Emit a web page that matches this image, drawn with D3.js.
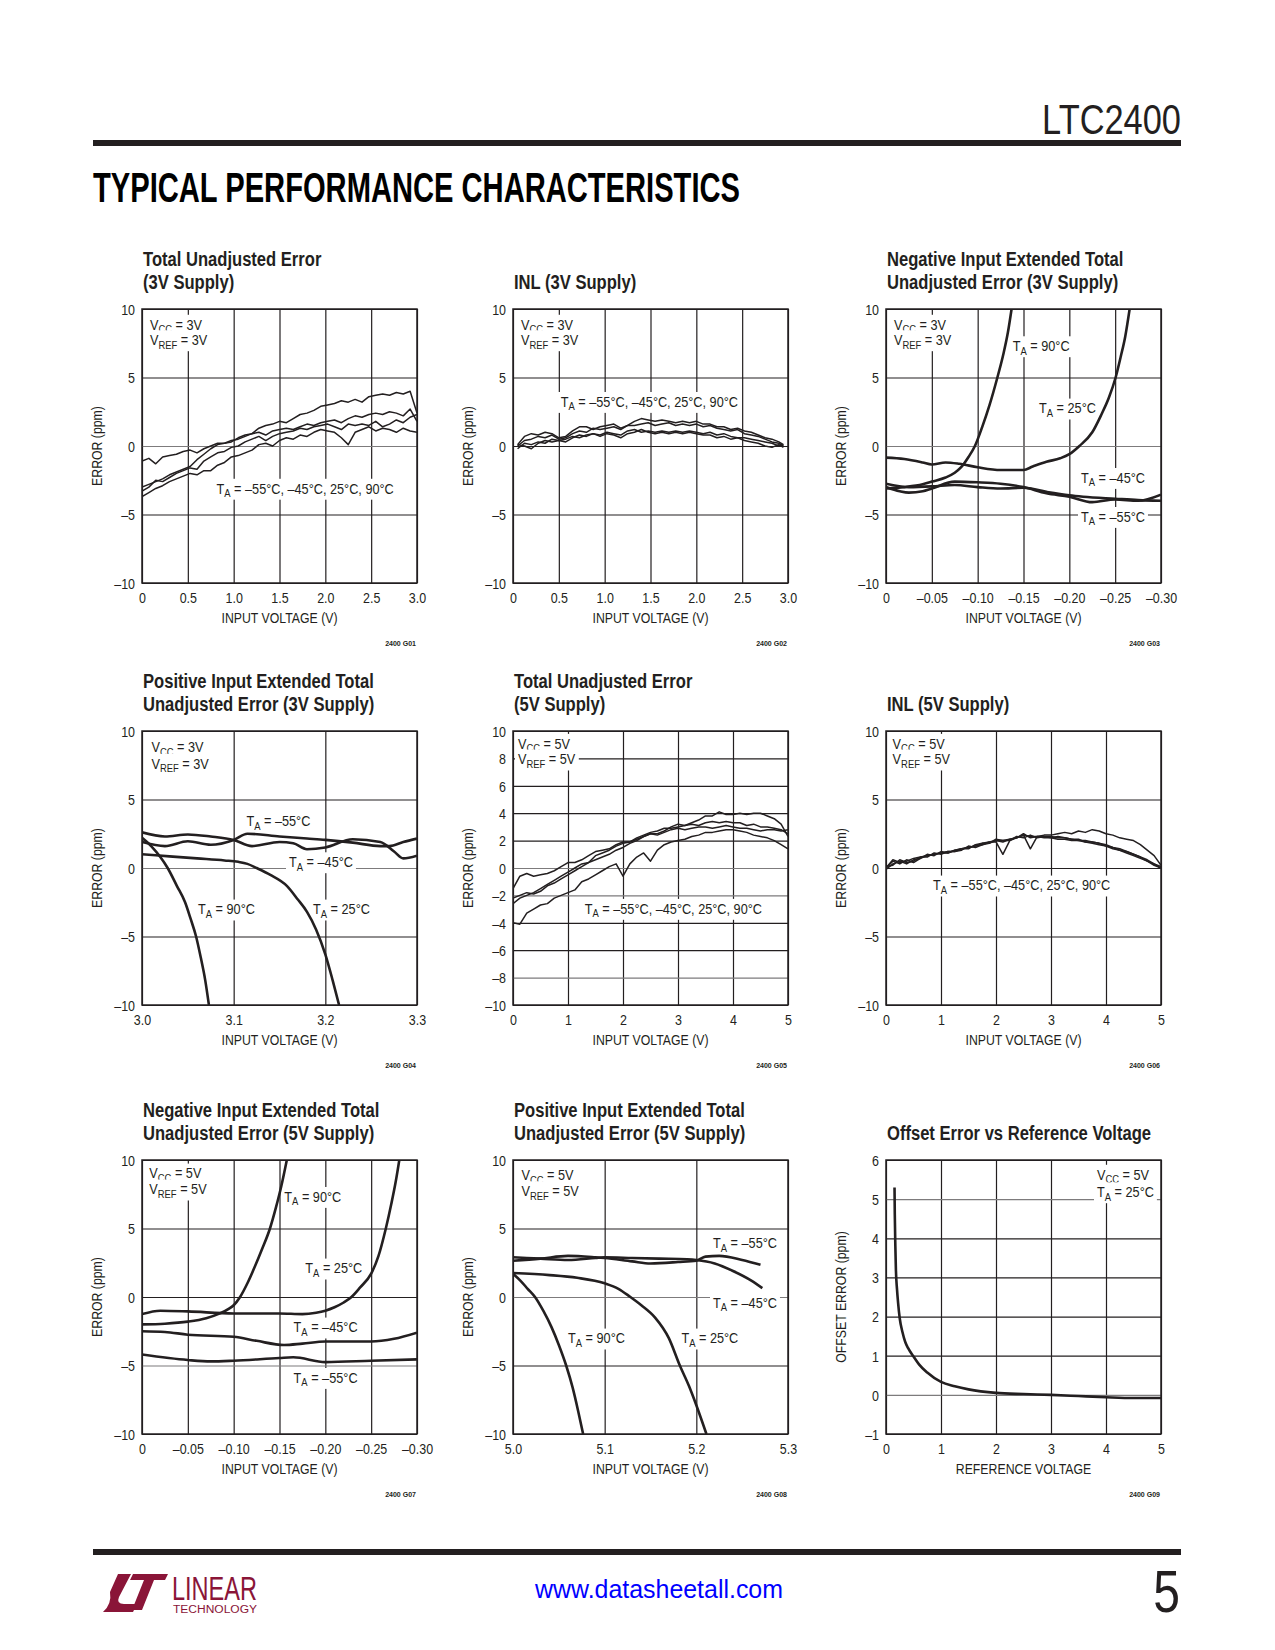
<!DOCTYPE html>
<html><head><meta charset="utf-8">
<script src="https://cdn.jsdelivr.net/npm/d3@7/dist/d3.min.js"></script>
<style>
body{margin:0;background:#fff;}
svg{display:block;}
</style></head><body>
<svg id="page" width="1275" height="1650"></svg>
<script>
// ---------------- DATA ----------------
const yTicks10 = [-10,-5,0,5,10];
const yLabels10 = ["–10","–5","0","5","10"];
const yTicks10by2 = [-10,-8,-6,-4,-2,0,2,4,6,8,10];
const yLabels10by2 = ["–10","–8","–6","–4","–2","0","2","4","6","8","10"];
const yTicksOffset = [-1,0,1,2,3,4,5,6];
const yLabelsOffset = ["–1","0","1","2","3","4","5","6"];
const xTicks3V = [0,0.5,1,1.5,2,2.5,3];
const xLabels3V = ["0","0.5","1.0","1.5","2.0","2.5","3.0"];
const xTicks5V = [0,1,2,3,4,5];
const xLabels5V = ["0","1","2","3","4","5"];
const xTicksNeg = [0,-0.05,-0.1,-0.15,-0.2,-0.25,-0.3];
const xLabelsNeg = ["0","–0.05","–0.10","–0.15","–0.20","–0.25","–0.30"];
const xTicksPos3 = [3.0,3.1,3.2,3.3];
const xLabelsPos3 = ["3.0","3.1","3.2","3.3"];
const xTicksPos5 = [5.0,5.1,5.2,5.3];
const xLabelsPos5 = ["5.0","5.1","5.2","5.3"];

// G01 total unadjusted error, 3V
const g01_x = [0,0.075,0.15,0.225,0.3,0.375,0.45,0.525,0.6,0.675,0.75,0.825,0.9,0.975,1.05,1.125,1.2,1.275,1.35,1.425,1.5,1.575,1.65,1.725,1.8,1.875,1.95,2.025,2.1,2.175,2.25,2.325,2.4,2.475,2.55,2.625,2.7,2.775,2.85,2.925,3.0];
const g01_a = [-1.1,-0.9,-1.3,-0.8,-0.7,-0.6,-0.4,-0.3,-0.5,-0.2,0.0,0.2,0.2,0.3,0.6,0.8,0.9,1.3,1.5,1.6,1.8,1.7,2.0,2.3,2.4,2.6,2.9,3.0,3.1,3.3,3.2,3.4,3.2,3.6,3.7,3.8,3.7,3.9,3.8,4.0,2.4];
const g01_b = [-3.0,-2.8,-2.6,-2.4,-2.1,-1.9,-1.7,-1.5,-1.0,-0.6,-0.2,0.1,0.2,0.4,0.5,0.7,0.9,1.0,0.8,1.1,1.2,1.3,1.2,1.4,1.6,1.5,1.7,1.8,1.9,1.7,2.0,2.2,2.1,2.3,2.4,2.3,2.5,2.4,2.2,2.7,1.8];
const g01_c = [-3.3,-3.0,-2.5,-2.6,-2.3,-2.0,-1.8,-1.6,-1.7,-1.1,-0.8,-0.5,-0.4,-0.1,0.0,0.3,0.5,0.7,0.4,0.7,0.9,1.0,1.1,1.3,1.2,1.4,1.5,1.6,1.4,1.2,1.6,1.5,1.6,1.5,1.8,1.4,1.6,1.9,1.7,2.1,2.3];
const g01_d = [-3.7,-3.4,-3.1,-2.9,-2.6,-2.4,-2.2,-2.0,-2.1,-1.8,-1.8,-1.4,-1.2,-0.8,-0.7,-0.5,-0.3,0.1,0.2,0.0,0.4,0.6,0.5,0.8,0.7,1.0,1.2,1.1,1.0,0.6,0.1,1.0,1.2,1.4,1.1,1.3,1.2,1.0,1.3,1.1,1.0];

// G02 INL, 3V
const g02_x = [0.05,0.125,0.2,0.275,0.35,0.425,0.5,0.575,0.65,0.725,0.8,0.875,0.95,1.025,1.1,1.175,1.25,1.325,1.4,1.475,1.55,1.625,1.7,1.775,1.85,1.925,2.0,2.075,2.15,2.225,2.3,2.375,2.45,2.525,2.6,2.675,2.75,2.825,2.9,2.95];
const g02_a = [0.1,0.7,0.9,0.8,1.0,0.9,0.6,0.7,1.1,1.4,1.4,1.2,1.4,1.5,1.6,1.3,1.5,1.8,2.0,1.9,1.8,1.9,1.8,1.7,1.8,1.7,1.8,1.6,1.6,1.4,1.4,1.2,1.3,1.1,1.0,0.8,0.6,0.5,0.3,0.1];
const g02_b = [0.0,0.4,0.5,0.7,0.6,0.8,0.5,0.6,0.9,1.1,1.0,1.3,1.2,1.3,1.4,1.2,1.5,1.5,1.6,1.7,1.5,1.6,1.7,1.5,1.6,1.5,1.6,1.4,1.5,1.3,1.2,1.1,1.2,0.9,0.8,0.7,0.5,0.3,0.2,0.0];
const g02_c = [-0.2,0.2,0.1,0.3,0.2,0.5,0.4,0.5,0.7,0.6,0.8,0.9,0.8,1.0,0.9,0.8,1.1,1.2,1.0,1.1,1.0,1.1,1.0,1.1,1.0,1.1,1.0,0.9,1.0,0.8,0.9,0.7,0.6,0.6,0.5,0.4,0.3,0.2,0.0,0.1];
const g02_d = [0.1,0.0,-0.2,0.2,0.4,0.3,0.4,0.3,0.6,0.8,0.7,0.9,0.7,0.9,0.8,0.6,0.9,1.0,1.2,1.0,0.9,1.0,0.9,1.0,0.9,1.0,0.9,0.8,0.8,0.6,0.7,0.5,0.6,0.4,0.3,0.2,0.0,-0.1,0.1,-0.1];

// G03 negative input extended, 3V
const g03_x90 = [0,-0.02,-0.04,-0.05,-0.065,-0.075,-0.082,-0.09,-0.097,-0.105,-0.113,-0.1215,-0.128,-0.133,-0.137];
const g03_y90 = [-3.1,-3.0,-2.8,-2.6,-2.3,-1.95,-1.55,-0.8,0,1.4,3.0,5,6.7,8.3,10];
const g03_x25 = [0,-0.02,-0.04,-0.05,-0.065,-0.08,-0.1,-0.125,-0.15,-0.16,-0.175,-0.19,-0.2,-0.211,-0.225,-0.235,-0.243,-0.2505,-0.256,-0.261,-0.2658];
const g03_y25 = [-0.85,-0.95,-1.2,-1.35,-1.2,-1.3,-1.55,-1.75,-1.75,-1.5,-1.15,-0.9,-0.6,0,1.0,2.3,3.5,5,6.5,8.0,10];
const g03_xm45 = [0,-0.015,-0.025,-0.04,-0.05,-0.075,-0.1,-0.125,-0.15,-0.175,-0.2,-0.225,-0.25,-0.275,-0.3];
const g03_ym45 = [-3.0,-3.3,-3.4,-3.3,-3.1,-2.6,-2.65,-2.75,-3.0,-3.45,-3.7,-4.1,-3.9,-4.0,-3.55];
const g03_xm55 = [0,-0.025,-0.05,-0.075,-0.1,-0.125,-0.15,-0.175,-0.2,-0.215,-0.25,-0.275,-0.3];
const g03_ym55 = [-2.75,-3.0,-2.95,-2.85,-3.0,-3.1,-3.05,-3.35,-3.6,-3.7,-3.85,-3.95,-4.0];

// G04 positive input extended, 3V
const g04_xm55 = [3.0,3.025,3.05,3.075,3.1,3.115,3.15,3.18,3.2,3.23,3.26,3.27,3.285,3.3];
const g04_ym55 = [1.9,1.6,1.95,1.7,2.05,2.5,2.3,2.15,2.05,1.85,1.6,1.6,1.9,2.15];
const g04_xm45 = [3.0,3.025,3.05,3.075,3.1,3.12,3.15,3.165,3.18,3.2,3.23,3.26,3.275,3.285,3.3];
const g04_ym45 = [2.6,2.3,2.45,2.3,2.05,1.6,1.9,1.8,1.37,1.5,2.1,1.9,1.2,0.7,0.9];
const g04_x90 = [3.0,3.01,3.02,3.028,3.038,3.047,3.053,3.059,3.064,3.069,3.073];
const g04_y90 = [2.2,1.6,0.8,0,-1.3,-2.5,-3.7,-5,-6.5,-8.2,-10];
const g04_x25 = [3.0,3.03,3.06,3.09,3.105,3.115,3.125,3.14,3.158,3.17,3.18,3.19,3.2,3.208,3.215];
const g04_y25 = [1.0,0.85,0.7,0.55,0.45,0.3,0.0,-0.5,-1.3,-2.3,-3.2,-4.5,-6.3,-8.2,-10];

// G05 total unadjusted error, 5V
const g05_x = [0,0.125,0.25,0.375,0.5,0.625,0.75,0.875,1,1.125,1.25,1.375,1.5,1.625,1.75,1.875,2,2.125,2.25,2.375,2.5,2.625,2.75,2.875,3,3.125,3.25,3.375,3.5,3.625,3.75,3.875,4,4.125,4.25,4.375,4.5,4.625,4.75,4.875,5];
const g05_a = [-1.5,-0.6,-0.4,-0.6,-0.5,-0.4,-0.2,0.1,0.4,0.4,0.6,0.9,1.2,1.3,1.4,1.7,1.9,1.9,2.1,2.3,2.5,2.5,2.7,3.0,3.2,3.1,3.3,3.5,3.8,3.8,4.1,3.9,3.9,4.0,3.9,4.0,4.0,3.8,3.6,3.2,2.3];
const g05_b = [-2.2,-2.0,-1.8,-1.9,-1.7,-1.3,-1.1,-0.8,-0.5,-0.2,0.1,0.4,0.9,1.1,1.3,1.6,1.8,1.9,2.2,2.4,2.6,2.7,2.9,2.9,3.0,3.1,3.2,3.1,3.3,3.4,3.3,3.4,3.3,3.3,3.1,3.2,3.0,3.0,2.9,2.8,2.5];
const g05_c = [-2.6,-2.2,-2.0,-1.8,-1.5,-1.2,-0.9,-0.6,-0.3,0.0,0.3,0.4,0.6,0.8,1.0,1.3,1.5,1.8,2.0,2.3,2.5,2.4,2.6,2.8,2.9,2.8,2.9,3.0,3.0,2.9,3.0,3.1,3.0,2.9,2.9,2.8,2.7,2.8,2.8,2.7,2.8];
const g05_d = [-4.0,-4.1,-3.3,-3.0,-2.7,-2.6,-2.2,-2.0,-1.8,-1.6,-1.0,-0.8,-0.5,-0.2,0.1,0.3,-0.6,0.3,0.8,1.1,0.5,1.3,1.7,1.9,2.0,2.1,2.3,2.4,2.6,2.6,2.7,2.8,2.8,2.7,2.6,2.4,2.3,2.2,2.0,1.7,1.4];

// G06 INL, 5V
const g06_x = [0,0.125,0.25,0.375,0.5,0.625,0.75,0.875,1,1.125,1.25,1.375,1.5,1.625,1.75,1.875,2,2.125,2.25,2.375,2.5,2.625,2.75,2.875,3,3.125,3.25,3.375,3.5,3.625,3.75,3.875,4,4.125,4.25,4.375,4.5,4.625,4.75,4.875,5];
const g06_a = [0.0,0.6,0.4,0.5,0.7,0.8,0.9,1.0,1.1,1.2,1.2,1.4,1.5,1.6,1.7,1.8,2.0,2.0,2.1,2.2,2.4,2.3,2.3,2.4,2.4,2.5,2.6,2.5,2.7,2.6,2.8,2.7,2.5,2.4,2.2,2.1,2.0,1.7,1.3,0.9,0.2];
const g06_b = [-0.1,0.3,0.5,0.3,0.6,0.7,0.9,1.0,1.1,1.1,1.3,1.4,1.5,1.6,1.8,1.9,2.0,1.9,2.1,2.2,2.5,2.2,2.3,2.2,2.2,2.1,2.1,2.0,2.0,1.9,1.8,1.7,1.6,1.4,1.3,1.1,0.9,0.7,0.5,0.2,0.0];
const g06_c = [0.1,0.2,0.6,0.4,0.5,0.8,0.8,1.1,1.0,1.2,1.2,1.3,1.6,1.5,1.7,1.9,1.9,1.0,2.0,2.2,2.4,1.4,2.3,2.3,2.2,2.3,2.2,2.1,2.1,1.9,1.9,1.8,1.6,1.5,1.3,1.2,1.0,0.8,0.5,0.3,0.0];
const g06_d = [0.0,0.5,0.3,0.6,0.4,0.7,1.0,0.9,1.2,1.1,1.3,1.4,1.4,1.7,1.8,1.8,2.1,2.0,2.0,2.3,2.2,2.4,2.2,2.3,2.3,2.2,2.2,2.1,2.0,2.0,1.9,1.8,1.7,1.5,1.4,1.2,1.0,0.8,0.6,0.3,0.1];

// G07 negative input extended, 5V
const g07_x90 = [0,-0.025,-0.05,-0.07,-0.085,-0.095,-0.1,-0.107,-0.115,-0.123,-0.131,-0.1396,-0.146,-0.152,-0.158];
const g07_y90 = [-2.0,-1.95,-1.8,-1.55,-1.2,-0.85,-0.6,0,1.0,2.2,3.5,5,6.5,8.1,10];
const g07_x25 = [0,-0.02,-0.05,-0.1,-0.15,-0.175,-0.19,-0.2,-0.21,-0.22,-0.2285,-0.238,-0.25,-0.258,-0.266,-0.272,-0.277,-0.2807];
const g07_y25 = [-1.25,-1.0,-1.05,-1.2,-1.2,-1.25,-1.15,-1.0,-0.75,-0.4,0,0.7,1.7,3.0,5,6.8,8.5,10];
const g07_xm45 = [0,-0.025,-0.05,-0.1,-0.125,-0.155,-0.175,-0.2,-0.25,-0.275,-0.3];
const g07_ym45 = [-2.5,-2.55,-2.75,-2.9,-3.2,-3.5,-3.4,-3.25,-3.25,-3.05,-2.6];
const g07_xm55 = [0,-0.05,-0.075,-0.1,-0.15,-0.165,-0.2,-0.25,-0.3];
const g07_ym55 = [-4.2,-4.6,-4.7,-4.65,-4.45,-4.4,-4.75,-4.65,-4.55];

// G08 positive input extended, 5V
const g08_xm55 = [5.0,5.03,5.06,5.09,5.1,5.13,5.15,5.18,5.2,5.21,5.225,5.25,5.27];
const g08_ym55 = [2.65,2.8,3.0,2.9,2.85,2.6,2.45,2.55,2.65,2.95,3.0,2.7,2.35];
const g08_xm45 = [5.0,5.03,5.06,5.09,5.1,5.13,5.16,5.19,5.2,5.22,5.24,5.26,5.272];
const g08_ym45 = [2.9,2.8,2.7,2.85,2.9,2.85,2.8,2.75,2.7,2.45,1.9,1.2,0.65];
const g08_x90 = [5.0,5.008,5.016,5.024,5.033,5.042,5.05,5.058,5.065,5.071,5.0765];
const g08_y90 = [1.7,1.2,0.6,0,-1.0,-2.2,-3.5,-5,-6.6,-8.3,-10];
const g08_x25 = [5.0,5.04,5.07,5.1,5.115,5.128,5.14,5.155,5.17,5.182,5.192,5.2,5.211];
const g08_y25 = [1.75,1.6,1.4,1.0,0.6,0,-0.6,-1.5,-3.0,-5,-6.5,-7.9,-10];

// G09 offset error vs reference voltage
const g09_x = [0.155,0.16,0.17,0.18,0.2,0.22,0.25,0.3,0.35,0.4,0.5,0.6,0.75,1.0,1.25,1.5,2.0,2.5,3.0,3.5,4.0,4.5,5.0];
const g09_y = [5.3,4.6,3.8,3.2,2.7,2.35,1.95,1.6,1.35,1.2,0.98,0.78,0.57,0.33,0.22,0.14,0.05,0.02,0.0,-0.03,-0.06,-0.08,-0.08];

// ---------------- LAYOUT / DRAWING ----------------
const INK = "#231f20";
const LIGHT = "#7d7b7c";
const SANS = '"Liberation Sans",Arial,Helvetica,sans-serif';
const SX = 0.82;      // horizontal condensing to mimic a narrow face
const SXT = 0.79;     // titles (condensed bold)
const W = 275, H = 274;
const colX = [142, 513, 886];
const rowY = [309, 731, 1160];
const svg = d3.select("#page");

function pairs(xs, ys){ return xs.map((v,i)=>[v, ys[i]]); }

function rich(sel, str, subSize){
  const parts = str.split(/(_\{[^}]*\})/).filter(p=>p.length);
  let shifted = false;
  parts.forEach(p=>{
    if (p.startsWith("_{")) {
      sel.append("tspan").attr("font-size", subSize).attr("dy", 3.5).text(p.slice(2,-1));
      shifted = true;
    } else {
      const t = sel.append("tspan").text(p);
      if (shifted) { t.attr("dy", -3.5); shifted = false; }
    }
  });
}

// narrow text: a group translated to (x,y) and squeezed horizontally
function ntext(parent, x, y, str, o){
  o = o || {};
  const sx = o.sx || SX;
  const g = parent.append("g").attr("transform", `translate(${x},${y})${o.rotate ? " rotate("+o.rotate+")" : ""} scale(${sx},1)`);
  const t = g.append("text").attr("x", 0).attr("y", 0)
    .attr("font-family", SANS).attr("font-size", o.size || 15).attr("fill", o.fill || INK)
    .attr("text-anchor", o.anchor || "start");
  if (o.weight) t.attr("font-weight", o.weight);
  if (o.rich) rich(t, str, o.subSize || 11.5); else t.text(str);
  if (o.knock) {
    const b = t.node().getBBox();
    g.insert("rect", () => t.node())
      .attr("x", b.x - 3/sx).attr("y", b.y - 0.5)
      .attr("width", b.width + 6/sx).attr("height", b.height + 1)
      .attr("fill", "#fff");
  }
  return g;
}

const charts = [
  {col:0,row:0,code:"2400 G01",title:["Total Unadjusted Error"," (3V Supply)"],
   xd:[0,3],xt:xTicks3V,xl:xLabels3V,yd:[-10,10],yt:yTicks10,yl:yLabels10,light:[0],
   xTitle:"INPUT VOLTAGE (V)",yTitle:"ERROR (ppm)",smooth:false,
   series:[pairs(g01_x,g01_a),pairs(g01_x,g01_b),pairs(g01_x,g01_c),pairs(g01_x,g01_d)],
   notes:[[8,20.5,"V_{CC} = 3V"],[8,36,"V_{REF} = 3V"],[74.5,184.5,"T_{A} = –55°C, –45°C, 25°C, 90°C"]]},
  {col:1,row:0,code:"2400 G02",title:["INL (3V Supply)"],
   xd:[0,3],xt:xTicks3V,xl:xLabels3V,yd:[-10,10],yt:yTicks10,yl:yLabels10,light:[],
   xTitle:"INPUT VOLTAGE (V)",yTitle:"ERROR (ppm)",smooth:false,
   series:[pairs(g02_x,g02_a),pairs(g02_x,g02_b),pairs(g02_x,g02_c),pairs(g02_x,g02_d)],
   notes:[[8,20.5,"V_{CC} = 3V"],[8,36,"V_{REF} = 3V"],[47.7,97.7,"T_{A} = –55°C, –45°C, 25°C, 90°C"]]},
  {col:2,row:0,code:"2400 G03",title:["Negative Input Extended Total","Unadjusted Error (3V Supply)"],
   xd:[0,-0.3],xt:xTicksNeg,xl:xLabelsNeg,yd:[-10,10],yt:yTicks10,yl:yLabels10,light:[0],
   xTitle:"INPUT VOLTAGE (V)",yTitle:"ERROR (ppm)",smooth:true,
   series:[pairs(g03_x90,g03_y90),pairs(g03_x25,g03_y25),pairs(g03_xm45,g03_ym45),pairs(g03_xm55,g03_ym55)],
   notes:[[8,20.5,"V_{CC} = 3V"],[8,36,"V_{REF} = 3V"],[126.7,42,"T_{A} = 90°C"],[153,104.3,"T_{A} = 25°C"],
          [195,173.7,"T_{A} = –45°C"],[195,212.7,"T_{A} = –55°C"]]},
  {col:0,row:1,code:"2400 G04",title:["Positive Input Extended Total","Unadjusted Error (3V Supply)"],
   xd:[3.0,3.3],xt:xTicksPos3,xl:xLabelsPos3,yd:[-10,10],yt:yTicks10,yl:yLabels10,light:[0],
   xTitle:"INPUT VOLTAGE (V)",yTitle:"ERROR (ppm)",smooth:true,
   series:[pairs(g04_xm55,g04_ym55),pairs(g04_xm45,g04_ym45),pairs(g04_x90,g04_y90),pairs(g04_x25,g04_y25)],
   notes:[[9.4,21,"V_{CC} = 3V"],[9.4,37.6,"V_{REF} = 3V"],[104.4,95.3,"T_{A} = –55°C"],[147,136,"T_{A} = –45°C"],
          [56,183.3,"T_{A} = 90°C"],[171,183.3,"T_{A} = 25°C"]]},
  {col:1,row:1,code:"2400 G05",title:["Total Unadjusted Error","(5V Supply)"],
   xd:[0,5],xt:xTicks5V,xl:xLabels5V,yd:[-10,10],yt:yTicks10by2,yl:yLabels10by2,light:[0,-2,-8],
   xTitle:"INPUT VOLTAGE (V)",yTitle:"ERROR (ppm)",smooth:false,
   series:[pairs(g05_x,g05_a),pairs(g05_x,g05_b),pairs(g05_x,g05_c),pairs(g05_x,g05_d)],
   notes:[[5,17.6,"V_{CC} = 5V"],[5,33.3,"V_{REF} = 5V"],[71.7,182.6,"T_{A} = –55°C, –45°C, 25°C, 90°C"]]},
  {col:2,row:1,code:"2400 G06",title:["INL (5V Supply)"],
   xd:[0,5],xt:xTicks5V,xl:xLabels5V,yd:[-10,10],yt:yTicks10,yl:yLabels10,light:[],
   xTitle:"INPUT VOLTAGE (V)",yTitle:"ERROR (ppm)",smooth:false,
   series:[pairs(g06_x,g06_a),pairs(g06_x,g06_b),pairs(g06_x,g06_c),pairs(g06_x,g06_d)],
   notes:[[6.6,17.6,"V_{CC} = 5V"],[6.6,33.3,"V_{REF} = 5V"],[47,159.3,"T_{A} = –55°C, –45°C, 25°C, 90°C"]]},
  {col:0,row:2,code:"2400 G07",title:["Negative Input Extended Total","Unadjusted Error (5V Supply)"],
   xd:[0,-0.3],xt:xTicksNeg,xl:xLabelsNeg,yd:[-10,10],yt:yTicks10,yl:yLabels10,light:[-5],
   xTitle:"INPUT VOLTAGE (V)",yTitle:"ERROR (ppm)",smooth:true,
   series:[pairs(g07_x90,g07_y90),pairs(g07_x25,g07_y25),pairs(g07_xm45,g07_ym45),pairs(g07_xm55,g07_ym55)],
   notes:[[7.3,18.3,"V_{CC} = 5V"],[7.3,34.3,"V_{REF} = 5V"],[142.3,41.7,"T_{A} = 90°C"],[163.3,113.3,"T_{A} = 25°C"],
          [151.6,172.3,"T_{A} = –45°C"],[151.6,222.7,"T_{A} = –55°C"]]},
  {col:1,row:2,code:"2400 G08",title:["Positive Input Extended Total","Unadjusted Error (5V Supply)"],
   xd:[5.0,5.3],xt:xTicksPos5,xl:xLabelsPos5,yd:[-10,10],yt:yTicks10,yl:yLabels10,light:[0],
   xTitle:"INPUT VOLTAGE (V)",yTitle:"ERROR (ppm)",smooth:true,
   series:[pairs(g08_xm55,g08_ym55),pairs(g08_xm45,g08_ym45),pairs(g08_x90,g08_y90),pairs(g08_x25,g08_y25)],
   notes:[[8.4,20,"V_{CC} = 5V"],[8.4,36,"V_{REF} = 5V"],[200,88.3,"T_{A} = –55°C"],[200,147.7,"T_{A} = –45°C"],
          [55,183.3,"T_{A} = 90°C"],[168.4,183.3,"T_{A} = 25°C"]]},
  {col:2,row:2,code:"2400 G09",title:["Offset Error vs Reference Voltage"],
   xd:[0,5],xt:xTicks5V,xl:xLabels5V,yd:[-1,6],yt:yTicksOffset,yl:yLabelsOffset,light:[0,5],
   xTitle:"REFERENCE VOLTAGE",yTitle:"OFFSET ERROR (ppm)",smooth:true,
   series:[pairs(g09_x,g09_y)],
   notes:[[211,19.5,"V_{CC} = 5V"],[211,37,"T_{A} = 25°C"]]}
];

charts.forEach((c, idx) => {
  const left = colX[c.col], top = rowY[c.row];
  const g = svg.append("g").attr("transform", `translate(${left},${top})`);
  const x = d3.scaleLinear().domain(c.xd).range([0, W]);
  const y = d3.scaleLinear().domain(c.yd).range([H, 0]);

  // title
  c.title.forEach((s, i) => {
    const base = c.title.length === 2 ? (i === 0 ? -43 : -20) : -20;
    ntext(g, 1, base, s, {size: 21, weight: "bold", sx: SXT});
  });

  // grid + tick labels via d3 axes
  const gx = g.append("g").attr("transform", `translate(0,${H})`)
    .call(d3.axisBottom(x).tickValues(c.xt).tickFormat((d,i)=>c.xl[i]).tickSize(-H).tickPadding(0));
  gx.select(".domain").remove();
  gx.selectAll("line").attr("stroke", INK).attr("stroke-width", 1.2);
  gx.selectAll("text").attr("y", 20).attr("dy", null).attr("transform", `scale(${SX},1)`)
    .attr("font-family", SANS).attr("font-size", 15.2).attr("fill", INK);

  const gy = g.append("g")
    .call(d3.axisLeft(y).tickValues(c.yt).tickFormat((d,i)=>c.yl[i]).tickSize(-W).tickPadding(7));
  gy.select(".domain").remove();
  gy.selectAll("line").attr("stroke", d => c.light.includes(d) ? LIGHT : INK).attr("stroke-width", 1.2);
  gy.selectAll("text").attr("x", -7 / SX).attr("transform", `scale(${SX},1)`)
    .attr("font-family", SANS).attr("font-size", 15.2).attr("fill", INK).attr("dy", "0.35em");

  // axis titles
  ntext(g, W/2, H + 40, c.xTitle, {anchor: "middle"});
  ntext(g, -40, H/2, c.yTitle, {anchor: "middle", rotate: -90});
  ntext(g, W - 1, H + 63, c.code, {anchor: "end", size: 8, weight: "bold", sx: 0.88});

  // annotations with white knock-out boxes
  c.notes.forEach(n => ntext(g, n[0], n[1], n[2], {size: 15.5, rich: true, knock: true}));

  // curves
  const clipId = "clip" + idx;
  g.append("clipPath").attr("id", clipId).append("rect").attr("width", W).attr("height", H);
  const line = d3.line().x(d => x(d[0])).y(d => y(d[1]))
    .curve(c.smooth ? d3.curveMonotoneX : d3.curveLinear);
  g.append("g").attr("clip-path", `url(#${clipId})`)
    .selectAll("path").data(c.series).join("path")
    .attr("d", d => line(d.slice().sort((a,b)=>x(a[0])-x(b[0]))))
    .attr("fill", "none").attr("stroke", INK)
    .attr("stroke-width", c.smooth ? 2.6 : 1.5).attr("stroke-linejoin", "round");

  // frame
  g.append("rect").attr("width", W).attr("height", H).attr("fill", "none")
    .attr("stroke", INK).attr("stroke-width", 1.5);
});

// ---------------- PAGE DECORATION ----------------
ntext(svg, 1181, 134, "LTC2400", {anchor: "end", size: 43, sx: 0.8});
svg.append("rect").attr("x", 93).attr("y", 140).attr("width", 1088).attr("height", 6).attr("fill", INK);
svg.append("text").attr("x", 93).attr("y", 202)
  .attr("font-family", SANS).attr("font-weight", "bold").attr("font-size", 43)
  .attr("textLength", 647).attr("lengthAdjust", "spacingAndGlyphs").attr("fill", "#000")
  .text("TYPICAL PERFORMANCE CHARACTERISTICS");

svg.append("rect").attr("x", 93).attr("y", 1549).attr("width", 1088).attr("height", 6).attr("fill", INK);
const LOGO = "#8a1538";
svg.append("path").attr("fill", LOGO)
  .attr("d", "M118,1574 L131,1574 L119,1597 Q116,1604 124,1604 L137,1604 L133,1612 L103,1612 Q112,1604 110,1592 Z");
svg.append("path").attr("fill", LOGO)
  .attr("d", "M133,1574 L168,1574 L165,1580 L154,1580 L142,1610 L132,1610 L144,1580 L130,1580 Z");
svg.append("text").attr("x", 172).attr("y", 1600).attr("font-family", SANS).attr("font-size", 33)
  .attr("textLength", 85).attr("lengthAdjust", "spacingAndGlyphs").attr("fill", LOGO).text("LINEAR");
svg.append("text").attr("x", 173).attr("y", 1613).attr("font-family", SANS).attr("font-size", 10)
  .attr("textLength", 84).attr("lengthAdjust", "spacingAndGlyphs").attr("fill", LOGO).text("TECHNOLOGY");
svg.append("text").attr("x", 659).attr("y", 1598).attr("text-anchor", "middle")
  .attr("font-family", SANS).attr("font-size", 25)
  .attr("textLength", 248).attr("lengthAdjust", "spacingAndGlyphs").attr("fill", "#0000ff").text("www.datasheetall.com");
ntext(svg, 1180, 1612, "5", {anchor: "end", size: 60, sx: 0.8});
</script>
</body></html>
